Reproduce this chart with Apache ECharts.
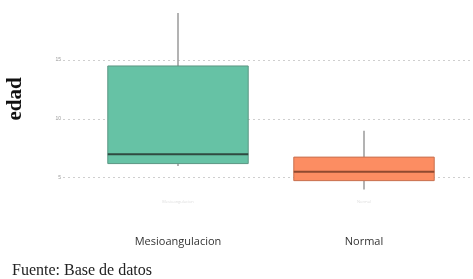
<!DOCTYPE html>
<html><head><meta charset="utf-8">
<script src="https://cdn.jsdelivr.net/npm/echarts@6/dist/echarts.min.js"></script>
<style>html,body{margin:0;padding:0;background:#fff}#c{width:473px;height:279px}</style>
</head><body><div id="c"></div>
<script>
var categories = ['Mesioangulacion', 'Normal'];
var whiskerLow = [6.0, 4.0];
var q1 = [6.2, 4.75];
var median = [7.0, 5.5];
var q3 = [14.5, 6.75];
var whiskerHigh = [19.0, 9.0];
var yTicks = [5, 10, 15];
var fills = ['#66c2a5', '#fc8d62'];
var borders = ['#5b9683', '#c7704f'];
var medianColors = ['#2f4a41', '#8f4a30'];

var boxData = categories.map(function (c, i) {
  return [i, whiskerLow[i], q1[i], median[i], q3[i], whiskerHigh[i]];
});

var chart = echarts.init(document.getElementById('c'));
chart.setOption({
  animation: false,
  backgroundColor: '#ffffff',
  grid: [
    { left: 63, right: 0, top: 1.3, height: 235.2 },
    { left: 85, width: 372, top: 1.3, height: 235.2 }
  ],
  xAxis: [
    { gridIndex: 0, type: 'value', min: 0, max: 1, show: false },
    { gridIndex: 1, type: 'category', data: categories,
      axisLine: { show: false }, axisTick: { show: false },
      axisLabel: { margin: 0, fontSize: 11, color: '#333', fontFamily: 'Open Sans' } }
  ],
  yAxis: [
    { gridIndex: 0, type: 'value', min: 0, max: 20, interval: 5,
      axisLine: { show: false }, axisTick: { show: false },
      axisLabel: { fontSize: 5, color: '#999', margin: 2,
        showMinLabel: false, showMaxLabel: false,
        formatter: function (v) { return yTicks.indexOf(v) >= 0 ? String(v) : ''; } },
      splitLine: { show: true, showMinLine: false, showMaxLine: false,
        lineStyle: { color: '#cfcfcf', type: [2, 3], width: 1 } } },
    { gridIndex: 1, type: 'value', min: 0, max: 20, interval: 5, show: false, splitLine: { show: false } }
  ],
  graphic: [
    { type: 'text', x: 16, y: 99, rotation: Math.PI / 2,
      style: { text: 'edad', font: 'bold 21px "Liberation Serif", "Times New Roman", serif', fill: '#111',
        align: 'center', verticalAlign: 'middle' } },
    { type: 'text', x: 12, y: 271,
      style: { text: 'Fuente: Base de datos', font: '16px "Liberation Serif", "Times New Roman", serif', fill: '#222',
        align: 'left', verticalAlign: 'middle' } },
    { type: 'text', x: 178, y: 202, style: { text: 'Mesioangulacion', font: '4px "Open Sans"', fill: '#ddd', align: 'center', verticalAlign: 'middle' } },
    { type: 'text', x: 364, y: 202, style: { text: 'Normal', font: '4px "Open Sans"', fill: '#ddd', align: 'center', verticalAlign: 'middle' } }
  ],
  series: [{
    type: 'custom',
    xAxisIndex: 1, yAxisIndex: 1,
    data: boxData,
    encode: { x: 0, y: [1, 2, 3, 4, 5] },
    renderItem: function (params, api) {
      var i = api.value(0);
      var lo = api.coord([i, api.value(1)]);
      var b1 = api.coord([i, api.value(2)]);
      var md = api.coord([i, api.value(3)]);
      var b3 = api.coord([i, api.value(4)]);
      var hi = api.coord([i, api.value(5)]);
      var w = api.size([1, 0])[0] * 0.755;
      var x0 = lo[0] - w / 2;
      return {
        type: 'group',
        children: [
          { type: 'line', shape: { x1: lo[0], y1: b3[1], x2: hi[0], y2: hi[1] },
            style: { stroke: '#9a9a9a', lineWidth: 1.5 } },
          { type: 'line', shape: { x1: lo[0], y1: b1[1], x2: lo[0], y2: lo[1] },
            style: { stroke: '#9a9a9a', lineWidth: 1.5 } },
          { type: 'rect', shape: { x: x0, y: b3[1], width: w, height: b1[1] - b3[1] },
            style: { fill: fills[i], stroke: borders[i], lineWidth: 1 } },
          { type: 'line', shape: { x1: x0, y1: md[1], x2: x0 + w, y2: md[1] },
            style: { stroke: medianColors[i], lineWidth: 2 } }
        ]
      };
    }
  }]
});
</script></body></html>
